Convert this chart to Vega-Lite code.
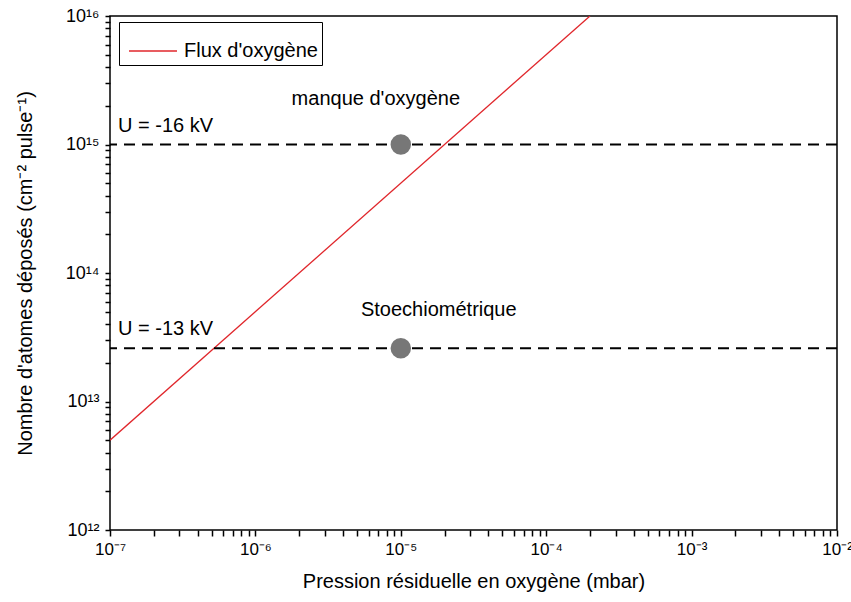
{
  "$schema": "https://vega.github.io/schema/vega-lite/v6.json",
  "width": 727,
  "height": 514,
  "autosize": {"type": "none"},
  "padding": {"left": 110, "top": 16, "right": 14, "bottom": 72},
  "background": "white",
  "config": {
    "font": "Liberation Sans",
    "view": {"stroke": "black", "strokeWidth": 1.5},
    "axis": {"grid": false, "domain": false, "labelColor": "black", "titleColor": "black", "labelFont": "Liberation Sans", "titleFont": "Liberation Sans", "titleFontWeight": "normal", "labelFlush": false}
  },
  "layer": [
    {
      "data": {"values": [
        {"x": 1e-7, "y": 5e12, "series": "Flux d'oxygène"},
        {"x": 2e-4, "y": 1e16, "series": "Flux d'oxygène"}
      ]},
      "mark": {"type": "line", "strokeWidth": 1.3, "clip": true},
      "encoding": {
        "x": {"field": "x", "type": "quantitative", "scale": {"type": "log", "domain": [1e-7, 1e-2], "nice": false},
          "axis": {"orient": "bottom", "values": [1e-7, 2e-7,3e-7,4e-7,5e-7,6e-7,7e-7,8e-7,9e-7, 1e-6, 2e-6,3e-6,4e-6,5e-6,6e-6,7e-6,8e-6,9e-6, 1e-5, 2e-5,3e-5,4e-5,5e-5,6e-5,7e-5,8e-5,9e-5, 1e-4, 2e-4,3e-4,4e-4,5e-4,6e-4,7e-4,8e-4,9e-4, 1e-3, 2e-3,3e-3,4e-3,5e-3,6e-3,7e-3,8e-3,9e-3, 1e-2], "labelOverlap": false, "ticks": true, "tickColor": "#000000", "tickOpacity": 1, "tickSize": 6, "tickWidth": 1.5, "labelFontSize": 17, "labelPadding": 5,
            "labelExpr": "abs(log(datum.value)/LN10 - round(log(datum.value)/LN10)) < 0.01 ? '10' + (datum.value < 1 ? '⁻' : '') + (abs(round(log(datum.value)/LN10)) >= 10 ? '¹' : '') + ['⁰','¹','²','³','⁴','⁵','⁶','⁷','⁸','⁹'][abs(round(log(datum.value)/LN10)) % 10] : ''",
            "title": "Pression résiduelle en oxygène (mbar)", "titleFontSize": 20, "titlePadding": 14}},
        "y": {"field": "y", "type": "quantitative", "scale": {"type": "log", "domain": [1e12, 1e16], "nice": false},
          "axis": {"orient": "left", "values": [1e12, 2e12,3e12,4e12,5e12,6e12,7e12,8e12,9e12, 1e13, 2e13,3e13,4e13,5e13,6e13,7e13,8e13,9e13, 1e14, 2e14,3e14,4e14,5e14,6e14,7e14,8e14,9e14, 1e15, 2e15,3e15,4e15,5e15,6e15,7e15,8e15,9e15, 1e16], "labelOverlap": false, "ticks": true, "tickColor": "#000000", "tickOpacity": 1, "tickSize": 5, "tickWidth": 1.5, "labelFontSize": 18, "labelPadding": 6,
            "labelExpr": "abs(log(datum.value)/LN10 - round(log(datum.value)/LN10)) < 0.01 ? '10' + (datum.value < 1 ? '⁻' : '') + (abs(round(log(datum.value)/LN10)) >= 10 ? '¹' : '') + ['⁰','¹','²','³','⁴','⁵','⁶','⁷','⁸','⁹'][abs(round(log(datum.value)/LN10)) % 10] : ''",
            "title": "Nombre d'atomes déposés (cm⁻² pulse⁻¹)", "titleFontSize": 20, "titlePadding": 30}},
        "color": {"field": "series", "type": "nominal", "scale": {"range": ["#e0262b"]},
          "legend": {"title": null, "orient": "none", "legendX": 9, "legendY": 6, "strokeColor": "black", "padding": 4, "symbolType": "stroke", "symbolSize": 2300, "symbolStrokeWidth": 1.3, "symbolOffset": 5, "labelFontSize": 20, "labelOffset": 6, "labelColor": "black", "labelFont": "Liberation Sans", "fillColor": "white"}}
      }
    },
    {
      "data": {"values": [{"y": 1e15}, {"y": 2.6e13}]},
      "mark": {"type": "rule", "color": "black", "strokeWidth": 2, "strokeDash": [11, 7]},
      "encoding": {
        "y": {"field": "y", "type": "quantitative", "scale": {"type": "log", "domain": [1e12, 1e16], "nice": false}}
      }
    },
    {
      "data": {"values": [{"x": 1e-5, "y": 1e15}, {"x": 1e-5, "y": 2.6e13}]},
      "mark": {"type": "circle", "size": 420, "color": "#777777", "opacity": 1},
      "encoding": {
        "x": {"field": "x", "type": "quantitative", "scale": {"type": "log", "domain": [1e-7, 1e-2], "nice": false}},
        "y": {"field": "y", "type": "quantitative", "scale": {"type": "log", "domain": [1e12, 1e16], "nice": false}}
      }
    },
    {
      "data": {"values": [{"x": 1e-7, "y": 1e15, "label": "U = -16 kV"}, {"x": 1e-7, "y": 2.6e13, "label": "U = -13 kV"}]},
      "mark": {"type": "text", "align": "left", "baseline": "alphabetic", "dx": 8, "dy": -13, "fontSize": 20, "color": "black"},
      "encoding": {
        "x": {"field": "x", "type": "quantitative", "scale": {"type": "log", "domain": [1e-7, 1e-2], "nice": false}},
        "y": {"field": "y", "type": "quantitative", "scale": {"type": "log", "domain": [1e12, 1e16], "nice": false}},
        "text": {"field": "label"}
      }
    },
    {
      "data": {"values": [{"x": 1e-5, "y": 1e15, "label": "manque d'oxygène"}]},
      "mark": {"type": "text", "align": "center", "baseline": "alphabetic", "dx": -25, "dy": -40, "fontSize": 20, "color": "black"},
      "encoding": {
        "x": {"field": "x", "type": "quantitative", "scale": {"type": "log", "domain": [1e-7, 1e-2], "nice": false}},
        "y": {"field": "y", "type": "quantitative", "scale": {"type": "log", "domain": [1e12, 1e16], "nice": false}},
        "text": {"field": "label"}
      }
    },
    {
      "data": {"values": [{"x": 1e-5, "y": 2.6e13, "label": "Stoechiométrique"}]},
      "mark": {"type": "text", "align": "center", "baseline": "alphabetic", "dx": 38, "dy": -32, "fontSize": 20, "color": "black"},
      "encoding": {
        "x": {"field": "x", "type": "quantitative", "scale": {"type": "log", "domain": [1e-7, 1e-2], "nice": false}},
        "y": {"field": "y", "type": "quantitative", "scale": {"type": "log", "domain": [1e12, 1e16], "nice": false}},
        "text": {"field": "label"}
      }
    }
  ]
}
